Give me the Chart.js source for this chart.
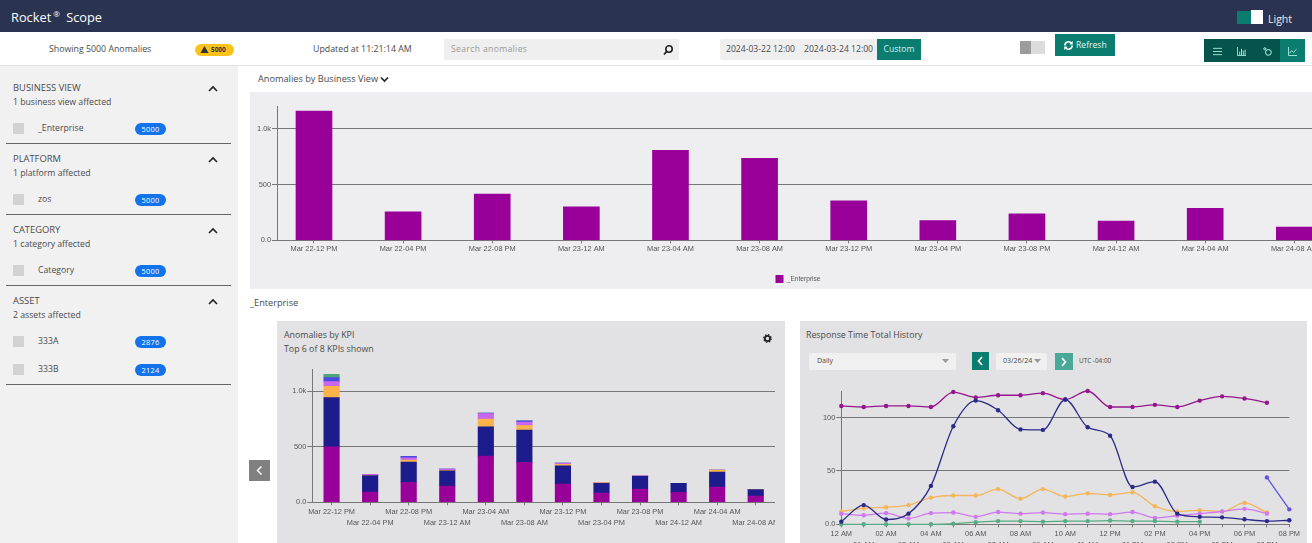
<!DOCTYPE html>
<html>
<head>
<meta charset="utf-8">
<title>Rocket Scope</title>
<script src="https://cdn.jsdelivr.net/npm/chart.js@4/dist/chart.umd.min.js"></script>
<style>
    html, body { margin: 0; width: 1312px; height: 543px; overflow: hidden; background: #fff; font-family: "Open Sans", sans-serif; color: #4a4a4a; }
    .box, .t, canvas, svg { position: absolute; }
    .t { white-space: nowrap; line-height: 14px; font-size: 8.8px; }
    .head { font-size: 9.2px; }
    .side { font-size: 9.4px; }
    .sub { font-size: 8.7px; }
    .date { font-size: 8.6px; }
    .check { width: 11px; height: 11px; left: 13px; background: #d2d2d2; }
    .pill { left: 135px; width: 31px; height: 12px; border-radius: 6px; background: #1273ea; color: #fff; font-size: 7.4px; line-height: 12px; text-align: center; letter-spacing: .3px; }
    .rule { left: 6px; width: 225px; height: 1px; background: #666; }
    .chev { left: 208px; }
    .teal { background: #0a7d70; color: #fff; }
</style>
</head>
<body>
<!-- header -->
<div class="box" style="left:0;top:0;width:1312px;height:32px;background:#2a3350"></div>
<div class="t" style="left:11px;top:9px;font-size:12.8px;line-height:16px;color:#fff">Rocket<sup style="font-size:8px;line-height:0;margin:0 3px 0 2px">®</sup> Scope</div>
<div class="box teal" style="left:1237px;top:11px;width:15px;height:13px"></div>
<div class="box" style="left:1251px;top:10px;width:12px;height:14px;background:#fff"></div>
<div class="t" style="left:1268px;top:12px;font-size:10.5px;color:#eee">Light</div>

<!-- toolbar -->
<div class="box" style="left:0;top:65px;width:1312px;height:1px;background:#e4e4e4"></div>
<div class="t" style="left:49px;top:42px">Showing 5000 Anomalies</div>
<div class="box" style="left:195px;top:44px;width:39px;height:12px;border-radius:6px;background:#fcc21b"></div>
<svg style="left:200px;top:45px" width="9" height="9" viewBox="0 0 10 10"><path d="M5 1 L9.5 9 H.5 Z" fill="#333"/></svg>
<div class="t" style="left:211px;top:43px;font-size:6.4px;font-weight:700;color:#333">5000</div>
<div class="t" style="left:313px;top:42px">Updated at 11:21:14 AM</div>
<div class="box" style="left:444px;top:39px;width:235px;height:21px;background:#efefef"></div>
<div class="t date" style="left:451px;top:42px;color:#999;letter-spacing:.35px">Search anomalies</div>
<svg style="left:662px;top:44px" width="12" height="12" viewBox="0 0 12 12"><circle cx="7" cy="5" r="3.2" fill="none" stroke="#222" stroke-width="1.6"/><path d="M4.8 7.4 L2 10.5" stroke="#222" stroke-width="1.8"/></svg>
<div class="box" style="left:720px;top:39px;width:157px;height:21px;background:#efefef;border-radius:2px"></div>
<div class="t date" style="left:726px;top:42px">2024-03-22 12:00</div>
<div class="t date" style="left:804px;top:42px">2024-03-24 12:00</div>
<div class="box teal t date" style="left:877px;top:39px;width:44px;height:21px;line-height:21px;text-align:center;color:#d8f0ec">Custom</div>
<div class="box" style="left:1020px;top:41px;width:11px;height:13px;background:#9c9c9c"></div>
<div class="box" style="left:1031px;top:41px;width:14px;height:13px;background:#dcdcdc"></div>
<div class="box teal t date" style="left:1055px;top:34px;width:60px;height:22px;line-height:22px;padding-left:21px;box-sizing:border-box;color:#e6f5f2">Refresh</div>
<svg style="left:1063px;top:40px" width="11" height="11" viewBox="0 0 12 12"><path d="M2 6 A4 4 0 0 1 9.5 4 M10 6 A4 4 0 0 1 2.5 8" fill="none" stroke="#fff" stroke-width="1.7"/><path d="M10.6 1 V5 H7 Z M1.4 11 V7 H5 Z" fill="#fff"/></svg>
<div class="box" style="left:1204px;top:39px;width:101px;height:23px;background:#05544c"></div>
<div class="box teal" style="left:1280px;top:39px;width:25px;height:23px"></div>
<svg style="left:1213px;top:47px" width="9" height="9" viewBox="0 0 10 10"><path d="M0 1.5 H10 M0 5 H10 M0 8.5 H10" stroke="#bfe" stroke-width=".9"/></svg>
<svg style="left:1237px;top:47px" width="9" height="9" viewBox="0 0 10 10"><path d="M.5 0 V9.5 H10 M3 9 V5 M5 9 V2 M7 9 V4 M9 9 V3" fill="none" stroke="#bfe" stroke-width=".9"/></svg>
<svg style="left:1263px;top:47px" width="9" height="9" viewBox="0 0 10 10"><circle cx="6" cy="6" r="3.2" fill="none" stroke="#bfe" stroke-width="1.1"/><circle cx="2" cy="2" r="1.2" fill="none" stroke="#bfe"/></svg>
<svg style="left:1288px;top:47px" width="9" height="9" viewBox="0 0 10 10"><path d="M.5 0 V9.5 H10 M1.5 7 L4 4 L6 6 L9.5 2.5" fill="none" stroke="#bfe" stroke-width=".9"/></svg>

<!-- sidebar -->
<div class="box" style="left:0;top:66px;width:238px;height:477px;background:#f1f1f2"></div>
<div class="t side" style="left:13px;top:81px">BUSINESS VIEW</div>
<div class="t sub" style="left:13px;top:95px">1 business view affected</div>
<svg class="chev" style="top:85px" width="10" height="8" viewBox="0 0 10 8"><path d="M1 6 L5 2 L9 6" fill="none" stroke="#222" stroke-width="1.6"/></svg>
<div class="box check" style="top:123px"></div>
<div class="t sub" style="left:38px;top:121px">_Enterprise</div>
<div class="box pill" style="top:123px">5000</div>
<div class="box rule" style="top:143px"></div>

<div class="t side" style="left:13px;top:152px">PLATFORM</div>
<div class="t sub" style="left:13px;top:166px">1 platform affected</div>
<svg class="chev" style="top:156px" width="10" height="8" viewBox="0 0 10 8"><path d="M1 6 L5 2 L9 6" fill="none" stroke="#222" stroke-width="1.6"/></svg>
<div class="box check" style="top:194px"></div>
<div class="t sub" style="left:38px;top:192px">zos</div>
<div class="box pill" style="top:194px">5000</div>
<div class="box rule" style="top:214px"></div>

<div class="t side" style="left:13px;top:223px">CATEGORY</div>
<div class="t sub" style="left:13px;top:237px">1 category affected</div>
<svg class="chev" style="top:227px" width="10" height="8" viewBox="0 0 10 8"><path d="M1 6 L5 2 L9 6" fill="none" stroke="#222" stroke-width="1.6"/></svg>
<div class="box check" style="top:265px"></div>
<div class="t sub" style="left:38px;top:263px">Category</div>
<div class="box pill" style="top:265px">5000</div>
<div class="box rule" style="top:285px"></div>

<div class="t side" style="left:13px;top:294px">ASSET</div>
<div class="t sub" style="left:13px;top:308px">2 assets affected</div>
<svg class="chev" style="top:298px" width="10" height="8" viewBox="0 0 10 8"><path d="M1 6 L5 2 L9 6" fill="none" stroke="#222" stroke-width="1.6"/></svg>
<div class="box check" style="top:336px"></div>
<div class="t sub" style="left:38px;top:334px">333A</div>
<div class="box pill" style="top:336px">2876</div>
<div class="box check" style="top:364px"></div>
<div class="t sub" style="left:38px;top:362px">333B</div>
<div class="box pill" style="top:364px">2124</div>
<div class="box rule" style="top:384px"></div>

<!-- top panel -->
<div class="t head" style="left:258px;top:72px">Anomalies by Business View</div>
<svg style="left:380px;top:76px" width="9" height="7" viewBox="0 0 9 7"><path d="M1 1.5 L4.5 5 L8 1.5" fill="none" stroke="#222" stroke-width="1.6"/></svg>
<div class="box" style="left:250px;top:92px;width:1062px;height:197px;background:#eeeef0"></div>
<canvas id="businessChart" width="1096" height="201" style="left:250px;top:92px"></canvas>
<div class="t head" style="left:250px;top:296px">_Enterprise</div>

<!-- KPI panel -->
<div class="box" style="left:277px;top:321px;width:508px;height:222px;background:#e2e2e4"></div>
<div class="t" style="left:284px;top:328px">Anomalies by KPI</div>
<div class="t" style="left:284px;top:342px">Top 6 of 8 KPIs shown</div>
<svg style="left:763px;top:334px" width="9" height="9" viewBox="0 0 10 10"><circle cx="5" cy="5" r="2.9" fill="none" stroke="#222" stroke-width="2"/><circle cx="5" cy="5" r="4.2" fill="none" stroke="#222" stroke-width="1.4" stroke-dasharray="1.6 1.7"/></svg>
<div class="box" style="left:249px;top:460px;width:21px;height:21px;background:#808080"></div>
<svg style="left:255px;top:465px" width="9" height="11" viewBox="0 0 9 11"><path d="M6.5 1.5 L2.5 5.5 L6.5 9.5" fill="none" stroke="#fff" stroke-width="1.5"/></svg>
<canvas id="kpiChart" width="497" height="183" style="left:278px;top:360px"></canvas>

<!-- history panel -->
<div class="box" style="left:800px;top:321px;width:507px;height:222px;background:#e2e2e4"></div>
<div class="t" style="left:806px;top:328px">Response Time Total History</div>
<div class="box" style="left:809px;top:353px;width:147px;height:17px;background:#f0f0f0;border-radius:2px"></div>
<div class="t" style="left:817px;top:354px;font-size:7px">Daily</div>
<svg style="left:942px;top:359px" width="7" height="4"><path d="M0 0 H7 L3.5 4 Z" fill="#999"/></svg>
<div class="box teal" style="left:972px;top:352px;width:17px;height:18px"></div>
<svg style="left:976px;top:356px" width="8" height="10" viewBox="0 0 8 10"><path d="M6 1 L2.5 5 L6 9" fill="none" stroke="#fff" stroke-width="1.7"/></svg>
<div class="box" style="left:996px;top:353px;width:51px;height:17px;background:#f0f0f0;border-radius:2px"></div>
<div class="t" style="left:1003px;top:354px;font-size:7px">03/26/24</div>
<svg style="left:1034px;top:359px" width="7" height="4"><path d="M0 0 H7 L3.5 4 Z" fill="#999"/></svg>
<div class="box" style="left:1055px;top:353px;width:18px;height:17px;background:#4aa898"></div>
<svg style="left:1060px;top:357px" width="8" height="10" viewBox="0 0 8 10"><path d="M2 1 L5.5 5 L2 9" fill="none" stroke="#fff" stroke-width="1.7"/></svg>
<div class="t" style="left:1079px;top:354px;font-size:6.4px">UTC -04:00</div>
<canvas id="historyChart" width="497" height="183" style="left:805px;top:380px"></canvas>

<script>
// bucket labels shared by both bar charts
const bucketLabels = [
    'Mar 22-12 PM', 'Mar 22-04 PM', 'Mar 22-08 PM', 'Mar 23-12 AM',
    'Mar 23-04 AM', 'Mar 23-08 AM', 'Mar 23-12 PM', 'Mar 23-04 PM',
    'Mar 23-08 PM', 'Mar 24-12 AM', 'Mar 24-04 AM', 'Mar 24-08 AM',
]
const countTicks = [0, 500, 1000]
const enterpriseTotals = [1160, 255, 414, 300, 807, 735, 355, 178, 238, 172, 287, 118]

// stacked KPI bars, bottom to top
const kpiPurple = [501, 93, 180, 147, 417, 360, 165, 84, 120, 90, 138, 57]
const kpiNavy = [444, 147, 183, 138, 264, 291, 165, 87, 114, 81, 135, 57]
const kpiOrange = [102, 3, 18, 3, 69, 42, 12, 6, 2, 0, 18, 2]
const kpiLilac = [42, 9, 21, 12, 51, 30, 9, 0, 2, 1, 0, 2]
const kpiBlue = [36, 0, 12, 0, 3, 12, 3, 0, 0, 0, 0, 0]
const kpiGreen = [30, 0, 0, 0, 0, 0, 0, 0, 0, 0, 0, 0]

const hourLabels = [
    '12 AM', '01 AM', '02 AM', '03 AM', '04 AM', '05 AM', '06 AM',
    '07 AM', '08 AM', '09 AM', '10 AM', '11 AM', '12 PM', '01 PM',
    '02 PM', '03 PM', '04 PM', '05 PM', '06 PM', '07 PM', '08 PM',
]
const historyTicks = [0, 50, 100]
const historyPurple = [111, 110, 111, 111, 110, 124, 119, 121, 121, 123, 117, 125, 110, 110, 112, 110, 116, 120, 118, 114, null]
const historyNavy = [2.5, 18, 4.5, 10, 36, 92, 116, 107, 89, 88.5, 117, 91, 83, 35, 40, 10, 7, 6.5, 4.7, 3, 3.8]
const historyOrange = [12, 15, 16, 18, 25, 27, 27, 33, 24, 33, 26, 29, 27.5, 30, 17, 12, 13, 12, 20, 11, null]
const historyLilac = [10, 8.5, 10.5, 5.5, 10.5, 11, 7, 11.5, 10, 11, 9.5, 10, 9.5, 11.5, 6, 8, 10, 12, 14.5, 10, null]
const historyGreen = [0, 0, 0, 0, 0, 0.5, 2, 3, 3, 2.5, 3, 3, 3.5, 3, 3, 2.5, 2.5, null, null, null, null]
const historyBlue = [null, null, null, null, null, null, null, null, null, null, null, null, null, null, null, null, null, null, null, 44, 14]

const axisGrey = '#777'
const tickFont = { family: 'Liberation Sans', size: 7.4, lineHeight: 1.5 }

function formatCount(value) {
    if (value === 0) return '0.0'
    if (value >= 1000) return (value / 1000).toFixed(1) + 'k'
    return String(value)
}

function staggered(text, index) {
    return index % 2 === 0 ? [text] : ['', text]
}

function yAxis(axisWidth, max, tickValues, stacked) {
    return {
        min: 0,
        max: max,
        stacked: stacked,
        afterFit: function (scale) {
            scale.width = axisWidth
        },
        afterBuildTicks: function (scale) {
            scale.ticks = tickValues.map(function (v) {
                return { value: v }
            })
        },
        border: { color: axisGrey },
        grid: { color: axisGrey, tickLength: 5 },
        ticks: { font: tickFont, color: '#555', padding: 1, callback: formatCount },
    }
}

function xAxisFit(height) {
    return function (scale) {
        scale.height = height
        scale.paddingLeft = 0
        scale.paddingRight = 0
    }
}

Chart.defaults.animation = false
Chart.defaults.responsive = false
Chart.defaults.plugins.tooltip.enabled = false

new Chart(document.getElementById('businessChart'), {
    type: 'bar',
    data: {
        datasets: [
            {
                label: '_Enterprise',
                backgroundColor: '#990099',
                barThickness: 36,
                data: enterpriseTotals.map(function (v, i) {
                    return { x: i, y: v }
                }),
            },
        ],
    },
    options: {
        layout: { padding: { top: 14.6 } },
        plugins: {
            legend: {
                position: 'bottom',
                labels: { boxWidth: 8, boxHeight: 8, padding: 5, color: '#555', font: { family: 'Liberation Sans', size: 6.6 } },
            },
        },
        scales: {
            x: {
                type: 'linear',
                // first bucket sits closer to the axis than a full half step
                min: -0.415,
                max: 11.58,
                offset: false,
                afterFit: xAxisFit(29.7),
                afterBuildTicks: function (scale) {
                    scale.ticks = bucketLabels.map(function (_, i) {
                        return { value: i }
                    })
                },
                border: { color: axisGrey },
                grid: { offset: false, drawOnChartArea: false, color: axisGrey, tickLength: 3 },
                ticks: {
                    autoSkip: false, maxRotation: 0, font: tickFont, color: '#555', padding: 0,
                    callback: function (value) {
                        return bucketLabels[value]
                    },
                },
            },
            y: yAxis(27, 1200, countTicks, false),
        },
    },
})

function kpiSet(values, color) {
    return { data: values, backgroundColor: color, barThickness: 15.5 }
}

new Chart(document.getElementById('kpiChart'), {
    type: 'bar',
    data: {
        labels: bucketLabels,
        datasets: [
            kpiSet(kpiPurple, '#990099'),
            kpiSet(kpiNavy, '#1c1c8c'),
            kpiSet(kpiOrange, '#f9b34a'),
            kpiSet(kpiLilac, '#c966ee'),
            kpiSet(kpiBlue, '#4a4ae0'),
            kpiSet(kpiGreen, '#4da37a'),
        ],
    },
    options: {
        layout: { padding: { top: 9.3 } },
        plugins: { legend: { display: false } },
        scales: {
            x: {
                stacked: true,
                afterFit: xAxisFit(40.7),
                border: { color: axisGrey },
                grid: { offset: false, drawOnChartArea: false, color: axisGrey, tickLength: 3 },
                ticks: {
                    autoSkip: false, maxRotation: 0, font: tickFont, color: '#555', padding: 1,
                    callback: function (value, index) {
                        return staggered(bucketLabels[index], index)
                    },
                },
            },
            y: yAxis(34.3, 1200, countTicks, true),
        },
    },
})

function lineSet(values, color) {
    return {
        data: values,
        borderColor: color,
        backgroundColor: color,
        borderWidth: 1.3,
        pointRadius: 2.2,
        pointBorderWidth: 0,
        clip: false,
        cubicInterpolationMode: 'monotone',
    }
}

new Chart(document.getElementById('historyChart'), {
    type: 'line',
    data: {
        labels: hourLabels,
        datasets: [
            lineSet(historyNavy, '#2c2a88'),
            lineSet(historyPurple, '#94168c'),
            lineSet(historyGreen, '#58ab84'),
            lineSet(historyLilac, '#cf78ef'),
            lineSet(historyOrange, '#f5b55a'),
            lineSet(historyBlue, '#6055e0'),
        ],
    },
    options: {
        layout: { padding: { top: 11, right: 12.7 } },
        plugins: { legend: { display: false } },
        scales: {
            x: {
                afterFit: xAxisFit(38.7),
                border: { color: axisGrey },
                grid: { drawOnChartArea: false, color: axisGrey, tickLength: 3 },
                ticks: {
                    autoSkip: false, maxRotation: 0, font: tickFont, color: '#555', padding: 1,
                    callback: function (value, index) {
                        return staggered(hourLabels[index], index)
                    },
                },
            },
            y: yAxis(36.3, 125, historyTicks, false),
        },
    },
})
</script>
</body>
</html>
